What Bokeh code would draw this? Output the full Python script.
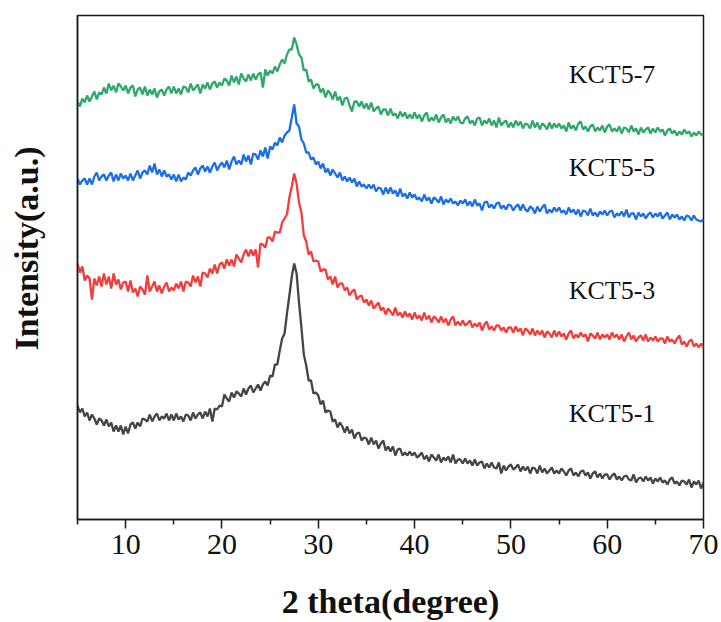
import numpy as np
from bokeh.plotting import figure
from bokeh.models import Range1d, FixedTicker, Label, Title
from bokeh.embed import file_html
from bokeh.resources import INLINE

# 2-theta sampling grid (degrees), 0.25 deg step from 5 to 70
two_theta = np.round(np.arange(5.0, 70.0001, 0.25), 2)

# Stacked XRD intensities (a.u., vertically offset per sample)
kct5_7 = [
    418, 413, 421, 417, 424, 418, 423, 428, 420, 427, 425, 432, 426, 436, 429, 434, 427, 436, 433, 429,
    434, 426, 432, 434, 423, 430, 432, 425, 433, 424, 430, 425, 431, 422, 428, 430, 424, 430, 433, 426,
    433, 426, 431, 425, 433, 432, 427, 436, 429, 432, 435, 426, 435, 431, 437, 430, 436, 438, 432, 437,
    434, 441, 439, 434, 444, 437, 443, 435, 446, 441, 438, 445, 439, 446, 440, 445, 447, 432, 450, 444,
    449, 446, 453, 448, 455, 460, 456, 465, 470, 470, 482, 475, 465, 462, 449, 450, 438, 440, 431, 435,
    435, 427, 431, 422, 429, 426, 420, 428, 419, 423, 414, 421, 422, 414, 408, 418, 418, 413, 418, 411,
    416, 410, 417, 408, 411, 413, 405, 410, 410, 404, 411, 404, 406, 401, 408, 403, 407, 401, 405, 401,
    407, 401, 405, 398, 404, 407, 398, 402, 399, 405, 397, 402, 405, 397, 401, 396, 403, 399, 403, 397,
    396, 401, 403, 396, 399, 394, 401, 402, 394, 399, 396, 401, 394, 399, 392, 402, 394, 397, 399, 392,
    397, 392, 399, 394, 398, 391, 396, 395, 391, 399, 392, 397, 390, 396, 394, 390, 397, 391, 396, 392,
    396, 391, 394, 388, 397, 391, 394, 389, 396, 398, 390, 393, 388, 393, 395, 388, 392, 389, 394, 387,
    393, 395, 388, 391, 388, 393, 386, 392, 391, 387, 394, 388, 391, 385, 392, 387, 390, 392, 386, 391,
    387, 392, 388, 390, 384, 389, 391, 386, 389, 384, 388, 385, 390, 386, 388, 383, 387, 384, 388, 385,
    385,
]

kct5_5 = [
    341, 335, 339, 341, 335, 341, 335, 343, 347, 339, 343, 345, 339, 344, 347, 338, 345, 339, 346, 341,
    344, 339, 346, 339, 344, 349, 341, 347, 349, 345, 354, 347, 356, 345, 350, 343, 349, 343, 345, 340,
    345, 338, 345, 338, 342, 340, 347, 344, 349, 352, 345, 351, 354, 348, 353, 347, 353, 357, 349, 354,
    357, 352, 359, 350, 358, 363, 355, 359, 355, 365, 358, 364, 355, 366, 365, 360, 369, 363, 372, 361,
    373, 370, 377, 374, 382, 377, 384, 387, 389, 402, 415, 396, 393, 380, 376, 367, 367, 360, 362, 355,
    358, 351, 356, 347, 351, 344, 350, 346, 342, 347, 339, 343, 338, 342, 337, 341, 333, 338, 333, 335,
    331, 335, 331, 335, 328, 332, 331, 325, 332, 326, 332, 326, 329, 323, 331, 323, 326, 321, 327, 322,
    325, 320, 322, 318, 325, 319, 322, 316, 322, 320, 317, 323, 315, 320, 317, 321, 316, 318, 314, 319,
    316, 320, 314, 318, 313, 320, 314, 316, 309, 317, 318, 312, 315, 311, 316, 317, 311, 314, 310, 315,
    314, 309, 313, 315, 309, 315, 310, 308, 313, 311, 306, 313, 308, 312, 315, 306, 310, 307, 312, 308,
    312, 307, 309, 305, 312, 307, 310, 305, 310, 303, 309, 308, 304, 311, 304, 307, 303, 308, 305, 309,
    304, 308, 309, 302, 306, 304, 308, 303, 310, 302, 306, 306, 300, 307, 303, 306, 301, 305, 307, 302,
    306, 303, 307, 301, 304, 307, 300, 305, 302, 305, 300, 303, 299, 304, 303, 299, 304, 300, 299, 298,
    300,
]

kct5_3 = [
    256, 247, 253, 239, 244, 241, 220, 241, 234, 243, 233, 246, 235, 243, 231, 246, 235, 240, 230, 237,
    238, 228, 239, 227, 231, 223, 233, 230, 225, 244, 228, 233, 238, 228, 234, 226, 233, 237, 228, 232,
    229, 236, 231, 238, 228, 238, 237, 233, 244, 237, 243, 233, 247, 246, 242, 251, 246, 255, 246, 255,
    257, 251, 260, 254, 260, 253, 265, 261, 257, 265, 270, 263, 270, 264, 270, 252, 276, 275, 272, 282,
    282, 278, 288, 287, 287, 297, 301, 305, 322, 333, 346, 336, 317, 307, 284, 278, 265, 268, 258, 259,
    258, 248, 250, 250, 240, 243, 235, 243, 232, 236, 236, 229, 232, 224, 228, 230, 220, 223, 224, 217,
    220, 214, 219, 211, 214, 217, 209, 212, 205, 211, 208, 204, 212, 204, 207, 202, 208, 203, 206, 200,
    207, 201, 204, 199, 207, 200, 204, 197, 203, 201, 197, 203, 197, 201, 194, 200, 203, 194, 198, 194,
    199, 194, 196, 199, 192, 196, 193, 197, 189, 195, 198, 190, 193, 189, 194, 194, 189, 192, 187, 192,
    192, 187, 193, 188, 191, 184, 191, 189, 185, 191, 184, 189, 185, 189, 182, 188, 186, 182, 189, 183,
    188, 183, 186, 180, 186, 189, 181, 185, 182, 187, 183, 185, 178, 186, 184, 181, 187, 180, 185, 182,
    185, 180, 187, 182, 185, 180, 185, 178, 183, 187, 180, 184, 178, 182, 184, 179, 185, 178, 182, 179,
    183, 178, 181, 181, 176, 183, 178, 180, 176, 181, 184, 175, 178, 173, 178, 180, 173, 176, 172, 176,
    172,
]

kct5_1 = [
    114, 107, 111, 103, 107, 99, 105, 101, 95, 101, 99, 94, 100, 93, 97, 88, 94, 88, 94, 85,
    93, 86, 95, 97, 91, 97, 93, 101, 100, 98, 105, 98, 103, 106, 99, 103, 101, 106, 99, 105,
    99, 106, 100, 103, 98, 105, 104, 99, 107, 101, 105, 107, 101, 108, 103, 111, 98, 111, 110, 114,
    113, 125, 121, 118, 127, 122, 128, 126, 123, 131, 125, 131, 134, 127, 131, 135, 129, 135, 138, 134,
    144, 143, 155, 155, 169, 181, 186, 206, 224, 243, 256, 246, 217, 192, 165, 154, 139, 139, 126, 127,
    124, 115, 119, 107, 109, 108, 98, 100, 92, 97, 93, 87, 93, 86, 90, 81, 86, 87, 79, 82,
    81, 75, 82, 75, 79, 71, 76, 79, 69, 73, 68, 73, 64, 70, 71, 64, 67, 64, 68, 64,
    67, 62, 64, 67, 60, 64, 58, 65, 62, 59, 65, 57, 62, 59, 63, 57, 65, 56, 60, 60,
    56, 61, 56, 59, 54, 60, 54, 57, 58, 51, 56, 52, 57, 52, 51, 57, 46, 54, 49, 53,
    55, 50, 52, 55, 48, 53, 49, 53, 46, 52, 51, 46, 54, 47, 51, 46, 49, 52, 46, 49,
    46, 51, 48, 44, 49, 51, 44, 47, 43, 48, 49, 44, 47, 41, 46, 48, 42, 46, 41, 45,
    45, 40, 44, 46, 40, 43, 39, 43, 44, 40, 39, 45, 37, 41, 42, 38, 43, 39, 42, 36,
    41, 38, 42, 37, 39, 35, 40, 42, 36, 38, 34, 39, 38, 35, 40, 32, 38, 35, 39, 31,
    37,
]

sample_names = ["KCT5-1", "KCT5-3", "KCT5-5", "KCT5-7"]
sample_series = [kct5_1, kct5_3, kct5_5, kct5_7]
sample_colors = ["#454545", "#f23d3d", "#1b6fe3", "#2fa86b"]
label_levels = [106, 229, 352, 445]

x_ticks = [10, 20, 30, 40, 50, 60, 70]
x_minor_ticks = [5, 15, 25, 35, 45, 55, 65]

SERIF = "Liberation Serif"

p = figure(
    width=721, height=622,
    x_range=Range1d(5, 70), y_range=Range1d(0, 504),
    output_backend="svg", toolbar_location=None,
    min_border_left=77, min_border_right=18,
    min_border_top=15, min_border_bottom=103,
)
p.background_fill_color = "white"
p.border_fill_color = "white"
p.grid.visible = False
p.outline_line_color = "#1a1a1a"
p.outline_line_width = 1.5

for name, ys, color in zip(sample_names, sample_series, sample_colors):
    assert len(ys) == len(two_theta)
    p.line(two_theta, ys, line_color=color, line_width=2.3)

# bottom axis
xa = p.xaxis[0]
xa.ticker = FixedTicker(ticks=x_ticks, minor_ticks=x_minor_ticks)
xa.axis_line_color = "#1a1a1a"
xa.axis_line_width = 1.5
xa.major_tick_line_color = "#1a1a1a"
xa.major_tick_line_width = 1.5
xa.major_tick_in = 0
xa.major_tick_out = 9
xa.minor_tick_line_color = "#1a1a1a"
xa.minor_tick_line_width = 1.5
xa.minor_tick_in = 0
xa.minor_tick_out = 5
xa.major_label_text_font = SERIF
xa.major_label_text_font_size = "30px"
xa.major_label_text_color = "#111111"
xa.major_label_standoff = 6
xa.axis_label = "2 theta(degree)"
xa.axis_label_text_font = SERIF
xa.axis_label_text_font_style = "bold"
xa.axis_label_text_font_size = "34px"
xa.axis_label_text_color = "#111111"
xa.axis_label_standoff = 26

# left axis: plain line; one hidden tick keeps a gap before the title
ya = p.yaxis[0]
ya.ticker = FixedTicker(ticks=[0])
ya.axis_line_color = "#1a1a1a"
ya.axis_line_width = 1.5
ya.major_tick_line_color = None
ya.minor_tick_line_color = None
ya.major_tick_in = 0
ya.major_tick_out = 31
ya.major_label_overrides = {0: ""}
ya.major_label_standoff = 5

# vertical axis title, set in the left margin
p.add_layout(Title(
    text="Intensity(a.u.)", align="left", offset=169,
    text_font=SERIF, text_font_style="bold", text_font_size="34px",
    text_color="#111111", standoff=4,
), "left")

# sample labels
for name, level in zip(sample_names, label_levels):
    p.add_layout(Label(
        x=56.0, y=level, text=name,
        text_font=SERIF, text_font_size="26px", text_color="#111111",
        text_align="left", text_baseline="middle",
    ))

open("out.html", "w").write(file_html(p, INLINE))
